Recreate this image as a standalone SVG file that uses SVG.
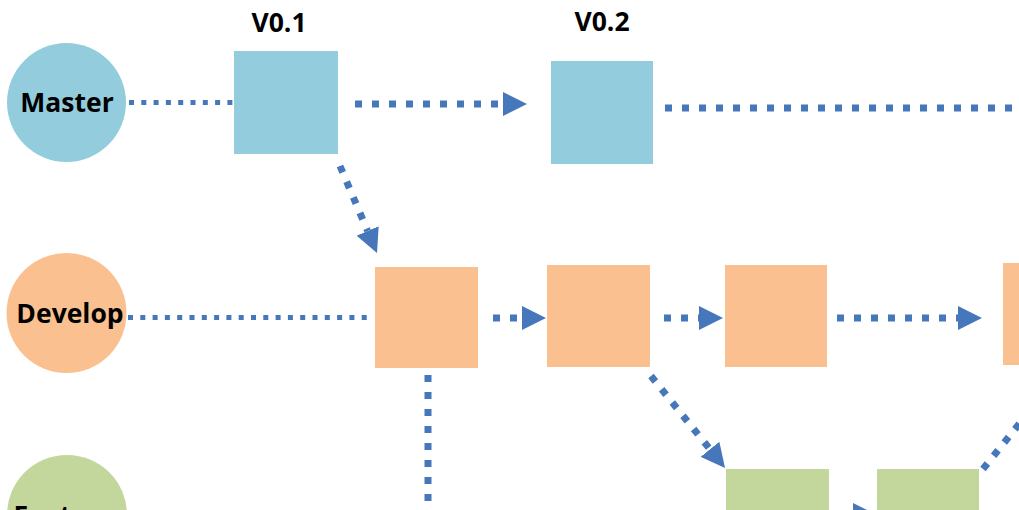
<svg xmlns="http://www.w3.org/2000/svg" width="1019" height="510" viewBox="0 0 1019 510">
  <style>
    .label { font-family: "Open Sans", "Liberation Sans", sans-serif; font-weight: 700; font-size: 26.5px; fill: #000; text-anchor: middle; }
    .master { fill: #93CDDD; }
    .develop { fill: #FAC08F; }
    .feature { fill: #C3D69B; }
    .thin { stroke: #4677BA; stroke-width: 5; stroke-dasharray: 5 7.3; fill: none; }
    .thick { stroke: #4677BA; stroke-width: 7; stroke-dasharray: 7 10; fill: none; }
  </style>
  <defs>
    <marker id="head" markerUnits="userSpaceOnUse" markerWidth="24" markerHeight="24" refX="0" refY="12" orient="auto">
      <path d="M0,0 L24,12 L0,24 Z" fill="#4677BA"/>
    </marker>
  </defs>

  <rect width="1019" height="510" fill="#FFFFFF"/>

  <!-- branch lanes and commit links -->
  <g id="connectors">
    <line class="thin" x1="129" y1="102.5" x2="233" y2="102.5"/>
    <line class="thick" x1="355" y1="104" x2="503" y2="104" marker-end="url(#head)"/>
    <line class="thick" x1="665" y1="108" x2="1019" y2="108"/>
    <line class="thick" x1="340" y1="166" x2="367.6" y2="231" marker-end="url(#head)"/>
    <line class="thin" x1="128" y1="317.5" x2="374" y2="317.5"/>
    <line class="thick" x1="493" y1="318" x2="522" y2="318" marker-end="url(#head)"/>
    <line class="thick" x1="664" y1="318" x2="699" y2="318" marker-end="url(#head)"/>
    <line class="thick" x1="837" y1="318" x2="958" y2="318" marker-end="url(#head)"/>
    <line class="thick" x1="428" y1="375" x2="428" y2="520"/>
    <line class="thick" x1="651" y1="376" x2="710" y2="449.3" marker-end="url(#head)"/>
    <line class="thick" x1="840" y1="515" x2="853" y2="515" marker-end="url(#head)"/>
    <line class="thick" x1="983" y1="469" x2="1040" y2="398"/>
  </g>

  <!-- branch heads -->
  <g id="branch-master">
    <circle class="master" cx="66.5" cy="102.5" r="59.5"/>
    <text class="label" x="67" y="112">Master</text>
  </g>
  <g id="branch-develop">
    <circle class="develop" cx="66.5" cy="313" r="60"/>
    <text class="label" x="70" y="323">Develop</text>
  </g>
  <g id="branch-feature">
    <circle class="feature" cx="67" cy="515" r="60"/>
    <text class="label" x="65" y="525">Feature</text>
  </g>

  <!-- master commits -->
  <g id="master-v01">
    <rect class="master" x="234" y="51" width="104" height="103"/>
    <text class="label" x="279" y="32">V0.1</text>
  </g>
  <g id="master-v02">
    <rect class="master" x="551" y="61" width="102" height="103"/>
    <text class="label" x="602" y="31">V0.2</text>
  </g>

  <!-- develop commits -->
  <g id="develop-1"><rect class="develop" x="375" y="267" width="103" height="101"/></g>
  <g id="develop-2"><rect class="develop" x="547" y="265" width="103" height="102"/></g>
  <g id="develop-3"><rect class="develop" x="725" y="265" width="102" height="102"/></g>
  <g id="develop-4"><rect class="develop" x="1003" y="263" width="103" height="102"/></g>

  <!-- feature commits -->
  <g id="feature-1"><rect class="feature" x="726" y="469" width="103" height="102"/></g>
  <g id="feature-2"><rect class="feature" x="877" y="469" width="102" height="102"/></g>
</svg>
